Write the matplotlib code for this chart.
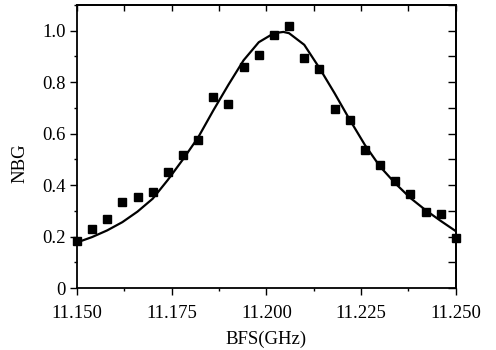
import matplotlib
matplotlib.use("Agg")
import matplotlib.pyplot as plt
from matplotlib.ticker import MultipleLocator

plt.rcParams['font.family'] = ['Liberation Serif', 'DejaVu Serif']

# measured data (BFS in GHz, NBG)
bfs = [11.150, 11.154, 11.158, 11.162, 11.166, 11.170, 11.174, 11.178, 11.182,
       11.186, 11.190, 11.194, 11.198, 11.202, 11.206, 11.210, 11.214, 11.218,
       11.222, 11.226, 11.230, 11.234, 11.238, 11.242, 11.246, 11.250]
nbg = [0.184, 0.230, 0.267, 0.333, 0.353, 0.375, 0.451, 0.515, 0.576,
       0.744, 0.715, 0.859, 0.905, 0.983, 1.017, 0.895, 0.851, 0.695,
       0.651, 0.537, 0.479, 0.415, 0.365, 0.297, 0.287, 0.196]

# fitted curve
fit_x = [11.150, 11.154, 11.158, 11.162, 11.166, 11.170, 11.174, 11.178, 11.182,
         11.186, 11.190, 11.194, 11.198, 11.202, 11.2045, 11.206, 11.210, 11.214,
         11.218, 11.222, 11.226, 11.230, 11.234, 11.238, 11.242, 11.246, 11.250]
fit_y = [0.177, 0.198, 0.224, 0.256, 0.297, 0.347, 0.420, 0.500, 0.585,
         0.690, 0.790, 0.885, 0.955, 0.990, 0.995, 0.990, 0.945, 0.855,
         0.757, 0.654, 0.556, 0.472, 0.407, 0.350, 0.303, 0.261, 0.221]

xticks = [11.150, 11.175, 11.200, 11.225, 11.250]
xtick_labels = ['11.150', '11.175', '11.200', '11.225', '11.250']
yticks = [0, 0.2, 0.4, 0.6, 0.8, 1.0]
ytick_labels = ['0', '0.2', '0.4', '0.6', '0.8', '1.0']

fig = plt.figure(figsize=(4.96, 3.5), dpi=100)
ax = fig.add_axes([0.155, 0.177, 0.764, 0.809])

ax.plot(fit_x, fit_y, color='black', lw=1.6, zorder=2)
ax.plot(bfs, nbg, linestyle='none', marker='s', ms=5.5, color='black',
        zorder=3, clip_on=False)

ax.set_xlim(11.150, 11.250)
ax.set_ylim(0, 1.1)
ax.set_xticks(xticks)
ax.set_xticklabels(xtick_labels)
ax.set_yticks(yticks)
ax.set_yticklabels(ytick_labels)
ax.xaxis.set_minor_locator(MultipleLocator(0.0125))
ax.yaxis.set_minor_locator(MultipleLocator(0.1))
ax.tick_params(which='both', direction='out', width=1.0, labelsize=13.5)
ax.tick_params(axis='x', which='major', length=5, pad=7.5)
ax.tick_params(axis='y', which='major', length=5, pad=3)
ax.tick_params(which='minor', length=2.5)

# top / right: inward ticks without labels
top = ax.secondary_xaxis('top')
top.set_xticks(xticks)
top.xaxis.set_minor_locator(MultipleLocator(0.0125))
top.tick_params(which='both', direction='in', length=4.5, width=1.0,
                labeltop=False)
right = ax.secondary_yaxis('right')
right.set_yticks(yticks)
right.yaxis.set_minor_locator(MultipleLocator(0.1))
right.tick_params(which='both', direction='in', length=5.5, width=1.0,
                  labelright=False)

for s in list(ax.spines.values()) + list(top.spines.values()) + list(right.spines.values()):
    s.set_linewidth(1.3)

ax.set_xlabel('BFS(GHz)', fontsize=13.5)
ax.xaxis.set_label_coords(0.5, -0.152)
ax.set_ylabel('NBG', fontsize=13.5)
ax.yaxis.set_label_coords(-0.129, 0.442)

fig.savefig('out.png', dpi=100)
